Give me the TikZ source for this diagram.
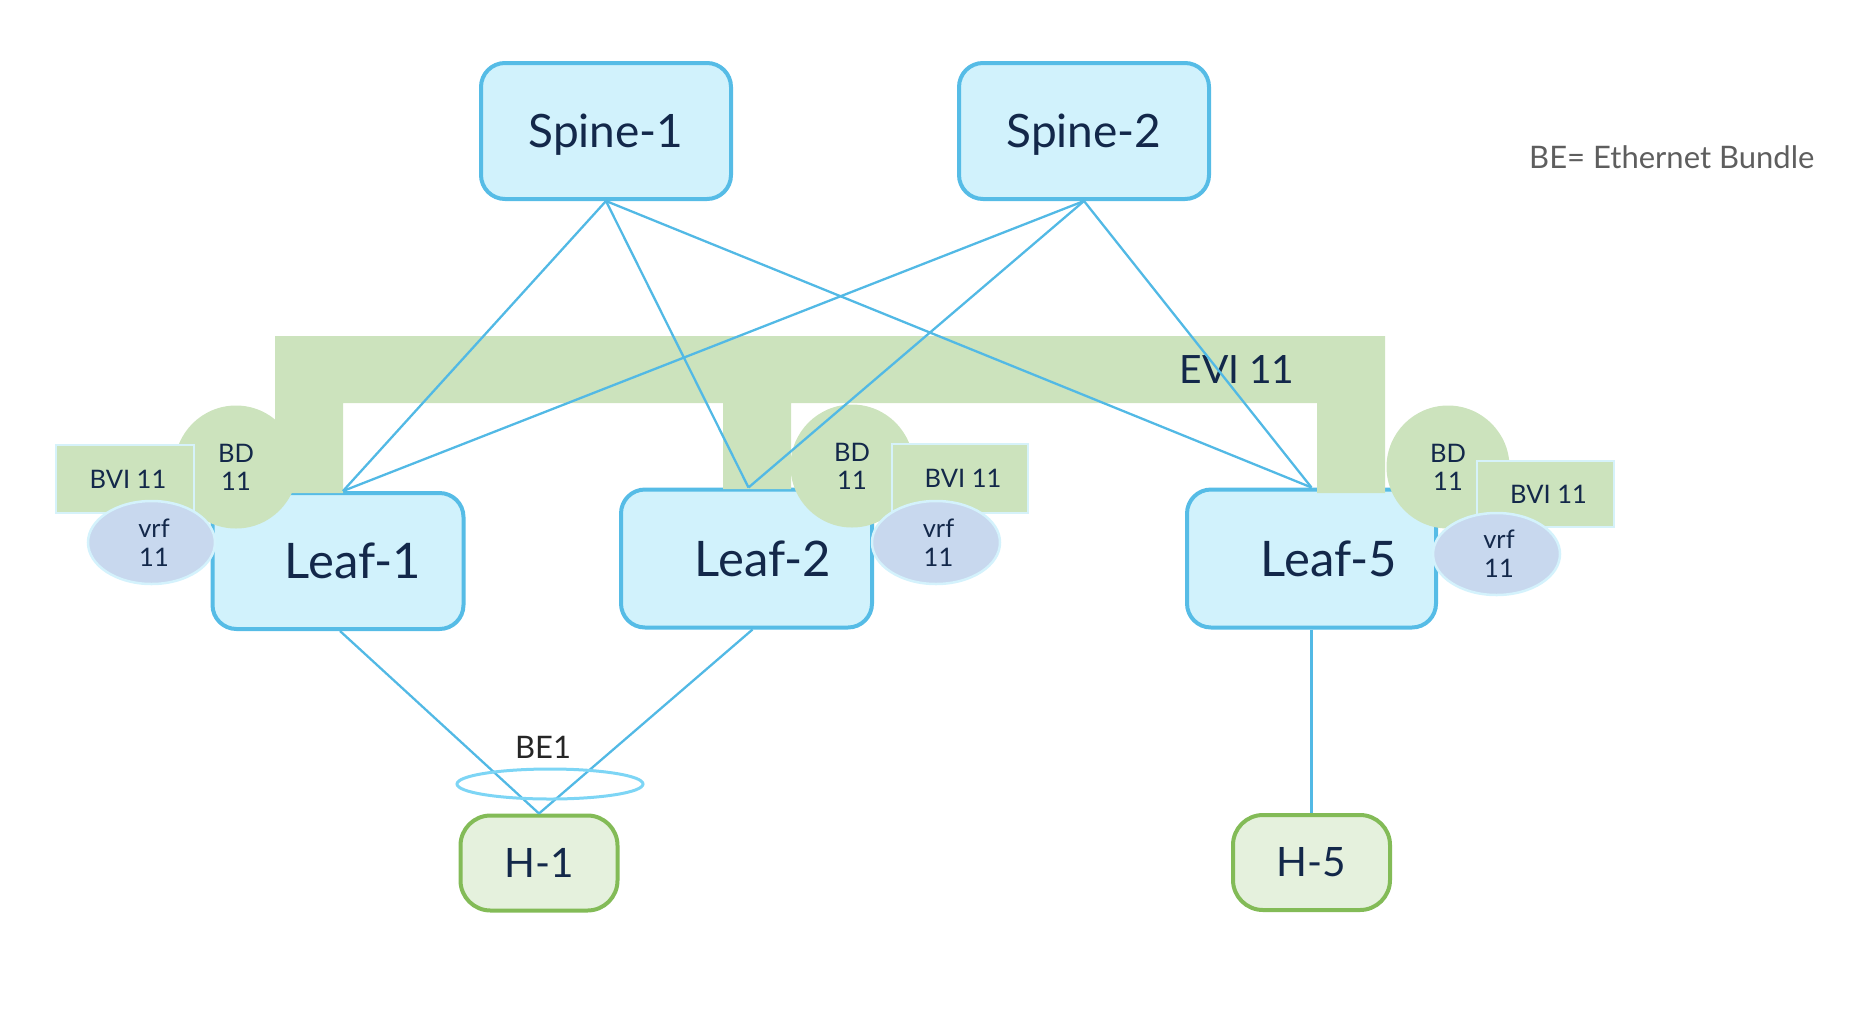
\documentclass[tikz,border=0pt]{standalone}
\usepackage{fontspec}
\setmainfont{Lato}
\usetikzlibrary{shapes.geometric}
\definecolor{boxfill}{HTML}{D1F2FC}
\definecolor{boxdraw}{HTML}{56BCE6}
\definecolor{linkblue}{HTML}{52B9E5}
\definecolor{evigreen}{HTML}{CCE3BD}
\definecolor{bviborder}{HTML}{D6F2FA}
\definecolor{vrffill}{HTML}{C8D8EE}
\definecolor{vrfborder}{HTML}{D4F2FC}
\definecolor{hfill}{HTML}{E5F1DD}
\definecolor{hdraw}{HTML}{83BB57}
\definecolor{navy}{HTML}{13284A}
\definecolor{beoval}{HTML}{7DD5F5}
\definecolor{legendgray}{HTML}{5E5E5E}
\definecolor{beonetext}{HTML}{262626}
\begin{document}
\begin{tikzpicture}[x=1pt,y=-1pt,
  netbox/.style={draw=boxdraw, fill=boxfill, line width=4pt, rounded corners=24pt, inner sep=0pt, text=navy},
  spinebox/.style={netbox, minimum width=250pt, minimum height=136pt, text height=33pt, text depth=0pt,
    font=\fontsize{46}{50}\selectfont},
  leafbox/.style={netbox, minimum width=251pt, minimum height=138pt, font=\fontsize{49}{54}\selectfont},
  hostbox/.style={draw=hdraw, fill=hfill, line width=4pt, rounded corners=30pt, inner sep=0pt, text=navy,
    minimum width=157pt, minimum height=95pt, font=\fontsize{40.5}{45}\selectfont},
  bdnode/.style={circle, fill=evigreen, minimum size=123pt, inner sep=0pt, align=center, text=navy,
    font=\fontsize{25.5}{28}\selectfont},
  bvinode/.style={rectangle, fill=evigreen, draw=bviborder, line width=2pt, inner sep=0pt, text=navy,
    minimum width=137pt, minimum height=68pt, font=\fontsize{25.5}{28}\selectfont},
  vrfnode/.style={ellipse, fill=vrffill, draw=vrfborder, line width=2.5pt, inner sep=0pt, align=center, text=navy,
    minimum width=127pt, minimum height=83pt, font=\fontsize{25.5}{29}\selectfont},
  link/.style={draw=linkblue, line width=2.3pt}
]
\useasboundingbox (0,0) rectangle (1854,1010);

% spines
\node[spinebox] (spine1) at (606,131) {Spine-1};
\node[spinebox] (spine2) at (1084,131) {Spine-2};

% leaves
\node[leafbox, minimum height=136pt] (leaf1) at (338,561) {\hspace*{30pt}Leaf-1};
\node[leafbox] (leaf2) at (746.5,558.5) {\hspace*{33pt}Leaf-2};
\node[leafbox, minimum width=249pt] (leaf5) at (1311.5,558.5) {\hspace*{35pt}Leaf-5};

% hosts
\node[hostbox] (h1) at (539,863) {H-1};
\node[hostbox] (h5) at (1311.5,862.5) {H-5};

% EVI band
\fill[evigreen] (275,493) -- (275,336) -- (1385,336) -- (1385,493) -- (1317,493) -- (1317,403)
  -- (791,403) -- (791,489) -- (723,489) -- (723,403) -- (343,403) -- (343,493) -- cycle;
\node[text=navy, inner sep=0pt, font=\fontsize{39}{42}\selectfont] (evi) at (1237,369) {EVI 11};

% bridge domains
\node[bdnode] (bd1) at (236,467) {BD\\11};
\node[bdnode] (bd2) at (852,466) {BD\\11};
\node[bdnode] (bd5) at (1448,467) {BD\\11};

% BVI
\node[bvinode, minimum width=138pt] (bvi1) at (125,479) {\hspace*{6pt}BVI 11};
\node[bvinode, minimum width=136pt, minimum height=69pt] (bvi2) at (960,478.5) {\hspace*{6pt}BVI 11};
\node[bvinode, minimum height=66pt] (bvi5) at (1545.5,494) {\hspace*{6pt}BVI 11};

% vrf
\node[vrfnode] (vrf1) at (151.5,542.5) {\hspace*{5pt}vrf\\\hspace*{5pt}11};
\node[vrfnode, minimum width=128pt] (vrf2) at (936,542.5) {\hspace*{5pt}vrf\\\hspace*{5pt}11};
\node[vrfnode, minimum height=82pt] (vrf5) at (1496.5,554) {\hspace*{5pt}vrf\\\hspace*{5pt}11};

% spine-leaf links
\draw[link] (spine1.south) -- ([xshift=5pt]leaf1.north);
\draw[link] (spine1.south) -- ([xshift=2pt]leaf2.north);
\draw[link] (spine1.south) -- (leaf5.north);
\draw[link] (spine2.south) -- ([xshift=5pt]leaf1.north);
\draw[link] (spine2.south) -- ([xshift=2pt]leaf2.north);
\draw[link] (spine2.south) -- (leaf5.north);

% leaf-host links
\draw[link] ([xshift=2pt]leaf1.south) -- (h1.north);
\draw[link] ([xshift=6pt]leaf2.south) -- (h1.north);
\draw[link] (leaf5.south) -- (h5.north);

% bundle
\node[ellipse, draw=beoval, line width=3pt, minimum width=186pt, minimum height=30pt, inner sep=0pt] (be1oval) at (550,784) {};
\node[text=beonetext, inner sep=0pt, font=\fontsize{31}{34}\selectfont] (be1) at (543,747) {BE1};

% legend
\node[anchor=west, text=legendgray, inner sep=0pt, font=\fontsize{31}{34}\selectfont] (legend) at (1529,157) {BE= Ethernet Bundle};
\end{tikzpicture}
\end{document}
